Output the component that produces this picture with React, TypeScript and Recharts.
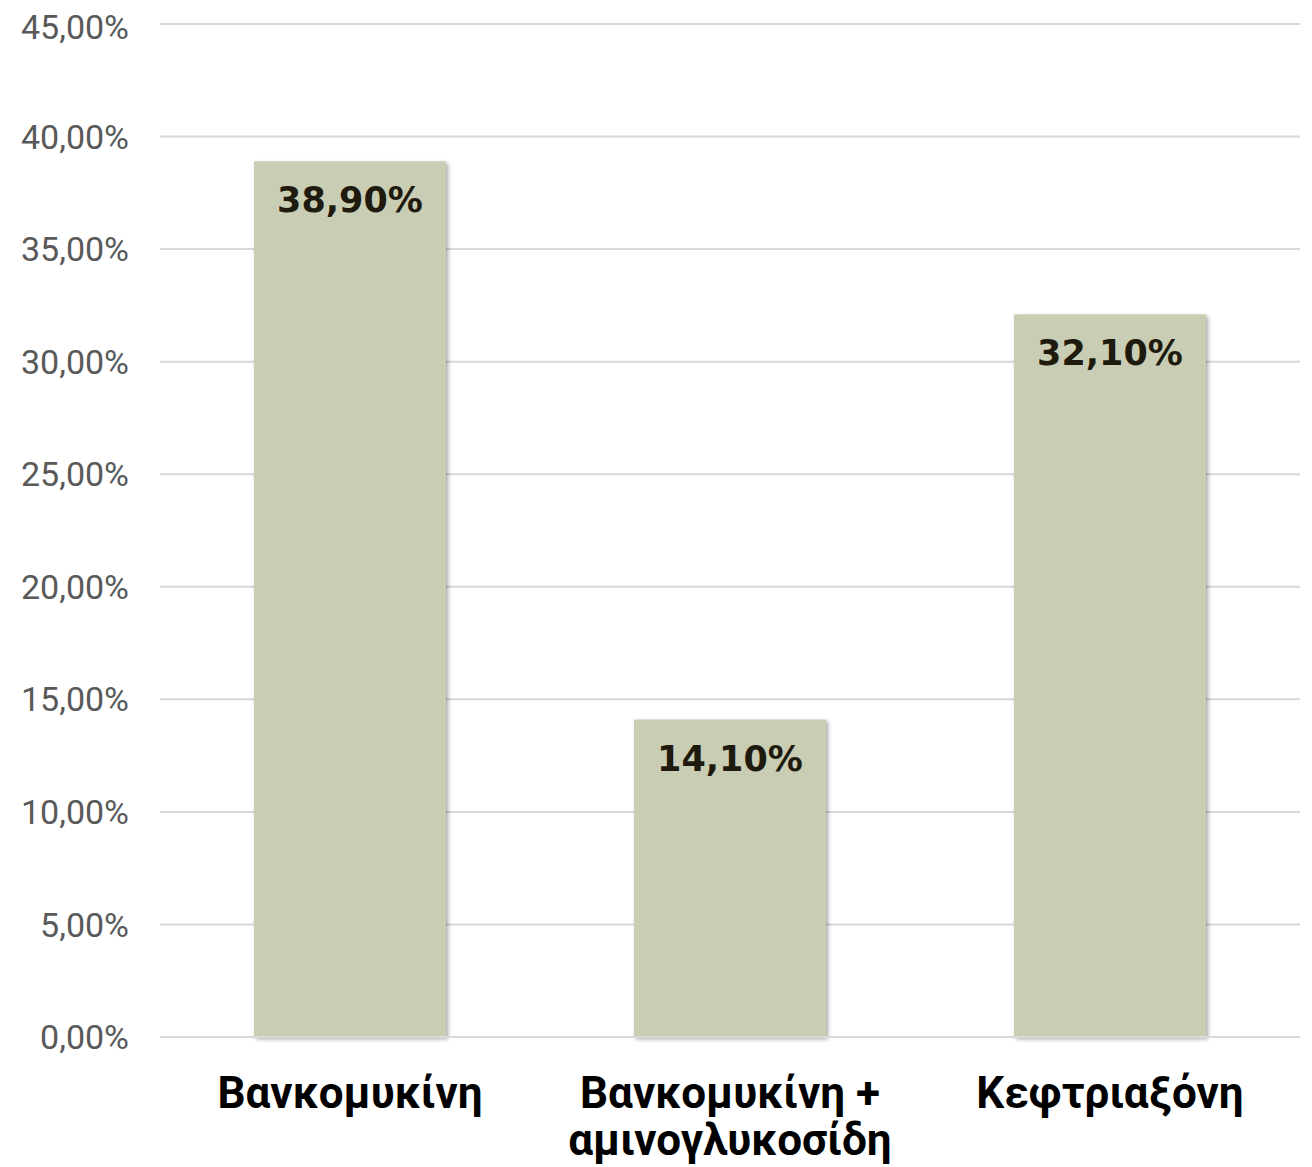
import React from 'react';
import { BarChart, Bar, XAxis, YAxis, CartesianGrid, LabelList } from 'recharts';

// Treatment categories (x axis), split into display lines
const categories = ['Βανκομυκίνη', 'Βανκομυκίνη + αμινογλυκοσίδη', 'Κεφτριαξόνη'];
const categoryLines = [['Βανκομυκίνη'], ['Βανκομυκίνη +', 'αμινογλυκοσίδη'], ['Κεφτριαξόνη']];

// Percent of patients per treatment
const values = [38.9, 14.1, 32.1];

// Y axis ticks (percent)
const yTicks = [0, 5, 10, 15, 20, 25, 30, 35, 40, 45];

const data = categories.map((name, i) => ({ name, lines: categoryLines[i], value: values[i] }));

const fmtPct = (v: number) => v.toFixed(2).replace('.', ',') + '%';

const CategoryTick = (props: any) => {
  const { x, y, payload, index } = props;
  const lines = categoryLines[index] || [payload.value];
  return (
    <g>
      {lines.map((line: string, i: number) => (
        <text
          key={i}
          x={x}
          y={y + 63 + i * 47}
          textAnchor="middle"
          fontFamily="Roboto, sans-serif"
          fontWeight={700}
          fontSize={44}
          fill="#000000"
        >
          {line}
        </text>
      ))}
    </g>
  );
};

const ShadowBar = (props: any) => {
  const { x, y, width, height, fill } = props;
  return (
    <rect
      x={x}
      y={y}
      width={width}
      height={height}
      fill={fill}
      style={{ filter: 'drop-shadow(2px 2px 2px rgba(0,0,0,0.35))' }}
    />
  );
};

const ValueLabel = (props: any) => {
  const { x, y, width, value } = props;
  return (
    <text
      x={x + width / 2}
      y={y + 51}
      textAnchor="middle"
      fontFamily="'DejaVu Sans', sans-serif"
      fontWeight={700}
      fontSize={35}
      fill="#1e1a0e"
    >
      {fmtPct(value)}
    </text>
  );
};

export default function App() {
  return (
    <div style={{ width: 1296, height: 1159, background: '#ffffff' }}>
      <BarChart
        width={1296}
        height={1159}
        data={data}
        margin={{ top: 16, right: 4, bottom: 100, left: 0 }}
      >
        <CartesianGrid horizontal vertical={false} stroke="#d9d9d9" strokeWidth={2} />
        <XAxis
          dataKey="name"
          axisLine={{ stroke: '#d9d9d9', strokeWidth: 2 }}
          tickLine={false}
          interval={0}
          tick={<CategoryTick />}
        />
        <YAxis
          width={152}
          domain={[0, 45]}
          ticks={yTicks}
          axisLine={false}
          tickLine={false}
          tickSize={0}
          tickMargin={31}
          tickFormatter={fmtPct}
          tick={{ fill: '#595959', fontSize: 34, fontFamily: 'Roboto, sans-serif' }}
        />
        <Bar dataKey="value" fill="#c9cdb4" barSize={192} shape={<ShadowBar />} isAnimationActive={false}>
          <LabelList dataKey="value" content={<ValueLabel />} />
        </Bar>
      </BarChart>
    </div>
  );
}
